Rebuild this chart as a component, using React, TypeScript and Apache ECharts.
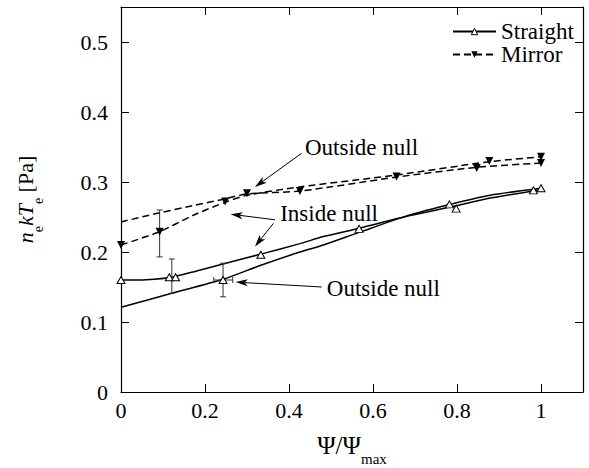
import React, { useEffect, useRef } from "react";
import * as echarts from "echarts";

const FONT = "Liberation Serif";

// Axis ranges / ticks
const xMin = 0;
const xMax = 1.1;
const xStep = 0.2;
const yMin = 0;
const yMax = 0.55;
const yStep = 0.1;

// Straight – fitted curves
const straightInsideFitX = [0, 0.06, 0.121, 0.18, 0.243, 0.333, 0.426, 0.482, 0.567, 0.688, 0.79, 0.879, 1.0];
const straightInsideFitY = [0.16, 0.1605, 0.164, 0.173, 0.183, 0.197, 0.212, 0.222, 0.234, 0.252, 0.265, 0.277, 0.289];
const straightOutsideFitX = [0, 0.121, 0.243, 0.333, 0.426, 0.482, 0.567, 0.688, 0.79, 0.879, 1.0];
const straightOutsideFitY = [0.121, 0.141, 0.161, 0.181, 0.2, 0.21, 0.228, 0.253, 0.269, 0.281, 0.291];

// Mirror – fitted curves
const mirrorInsideFitX = [0, 0.092, 0.17, 0.248, 0.3, 0.426, 0.656, 0.877, 1.0];
const mirrorInsideFitY = [0.21, 0.229, 0.252, 0.271, 0.281, 0.293, 0.31, 0.329, 0.336];
const mirrorOutsideFitX = [0, 0.092, 0.17, 0.248, 0.3, 0.426, 0.656, 0.847, 1.0];
const mirrorOutsideFitY = [0.243, 0.256, 0.266, 0.276, 0.283, 0.287, 0.307, 0.321, 0.327];

// Measured points
const straightMarkX = [0, 0.115, 0.13, 0.243, 0.333, 0.567, 0.782, 0.798, 0.982, 1.0];
const straightMarkY = [0.16, 0.164, 0.164, 0.16, 0.196, 0.233, 0.268, 0.262, 0.288, 0.291];
const mirrorMarkX = [0, 0.092, 0.248, 0.3, 0.426, 0.656, 0.847, 0.877, 1.0, 1.0];
const mirrorMarkY = [0.21, 0.229, 0.272, 0.284, 0.287, 0.308, 0.32, 0.33, 0.336, 0.327];

// Error bars
const errVX = [0.092, 0.121, 0.243];
const errVLow = [0.193, 0.141, 0.136];
const errVHigh = [0.26, 0.19, 0.184];
const errHY = [0.16];
const errHLow = [0.221];
const errHHigh = [0.266];

// Annotations
const annoLabels = ["Outside null", "Inside null", "Outside null"];
const annoX = [0.438, 0.379, 0.49];
const annoY = [0.35, 0.255, 0.148];
// arrows: tail -> head
const arrowTailX = [0.43, 0.367, 0.363, 0.478];
const arrowTailY = [0.341, 0.246, 0.241, 0.15];
const arrowHeadX = [0.319, 0.261, 0.319, 0.273];
const arrowHeadY = [0.293, 0.254, 0.208, 0.157];

const INV_TRI = "path://M0,0L10,0L5,10Z";

const pair = (xs: number[], ys: number[]) => xs.map((x, i) => [x, ys[i]]);

export default function App() {
  const ref = useRef<HTMLDivElement>(null);

  useEffect(() => {
    const chart = echarts.init(ref.current!, null, { renderer: "svg" });

    const txt = (size: number, extra: any = {}) => ({
      fontSize: size,
      fontFamily: FONT,
      fontStyle: "normal",
      fontWeight: "normal",
      color: "#000",
      ...extra,
    });

    const axisCommon = {
      type: "value" as const,
      splitLine: { show: false },
      axisLine: { show: true, onZero: false, lineStyle: { color: "#000", width: 1.2 } },
      axisTick: { show: true, inside: true, length: 8, lineStyle: { color: "#000", width: 1 } },
    };

    const fitLine = (name: string, xs: number[], ys: number[], dashed: boolean, symbol: string) => ({
      type: "line",
      name,
      data: pair(xs, ys),
      smooth: 0.25,
      showSymbol: false,
      symbol,
      symbolSize: 8,
      lineStyle: { color: "#000", width: 1.5, type: dashed ? [7, 4] : "solid" },
      itemStyle: { color: "#000" },
      silent: true,
      z: 2,
    });

    const option: any = {
      animation: false,
      textStyle: { fontFamily: FONT, color: "#000" },
      grid: { left: 121, right: 6, top: 7, bottom: 76, containLabel: false, outerBoundsMode: "none" },
      legend: {
        orient: "vertical",
        left: 452,
        top: 20,
        padding: 0,
        itemGap: 0,
        itemWidth: 43,
        itemHeight: 8,
        selectedMode: false,
        textStyle: txt(23, { lineHeight: 23 }),
        data: [
          { name: "Straight", itemStyle: { color: "#fff", borderColor: "#000", borderWidth: 1 } },
          { name: "Mirror", itemStyle: { color: "#000", borderColor: "#000", borderWidth: 0 } },
        ],
      },
      xAxis: [
        {
          ...axisCommon,
          min: xMin,
          max: xMax,
          interval: xStep,
          position: "bottom",
          axisLabel: {
            ...txt(22),
            margin: 7,
            showMaxLabel: false,
            formatter: (v: number) => (v > 1.05 ? "" : String(+v.toFixed(2))),
          },
          name: "{m|Ψ/Ψ}{s|max}",
          nameLocation: "middle",
          nameGap: 41,
          nameTextStyle: {
            rich: {
              m: txt(25, { verticalAlign: "top" }),
              s: txt(15, { verticalAlign: "top", padding: [18, 0, 0, 0] }),
            },
          },
        },
        {
          ...axisCommon,
          min: xMin,
          max: xMax,
          interval: xStep,
          position: "top",
          axisLabel: { show: false },
        },
      ],
      yAxis: [
        {
          ...axisCommon,
          min: yMin,
          max: yMax,
          interval: yStep,
          position: "left",
          axisLabel: {
            ...txt(22),
            margin: 13,
            showMaxLabel: false,
            formatter: (v: number) => (v > 0.52 ? "" : String(+v.toFixed(2))),
          },
          name: "{i|n}{s|e}{i|kT}{s|e}{r| [Pa]}",
          nameLocation: "middle",
          nameRotate: 90,
          nameGap: 76,
          nameTextStyle: {
            rich: {
              i: txt(22, { fontStyle: "italic", verticalAlign: "top" }),
              r: txt(22, { verticalAlign: "top" }),
              s: txt(14, { verticalAlign: "top", padding: [17, 0, 0, 0] }),
            },
          },
        },
        {
          ...axisCommon,
          min: yMin,
          max: yMax,
          interval: yStep,
          position: "right",
          axisLabel: { show: false },
        },
      ],
      series: [
        fitLine("Straight", straightInsideFitX, straightInsideFitY, false, "triangle"),
        fitLine("Straight", straightOutsideFitX, straightOutsideFitY, false, "triangle"),
        fitLine("Mirror", mirrorInsideFitX, mirrorInsideFitY, true, INV_TRI),
        fitLine("Mirror", mirrorOutsideFitX, mirrorOutsideFitY, true, INV_TRI),
        {
          type: "custom",
          name: "errV",
          silent: true,
          z: 3,
          data: errVX.map((x, i) => [x, errVLow[i], errVHigh[i]]),
          encode: { x: 0, y: [1, 2] },
          renderItem: (_p: any, api: any) => {
            const top = api.coord([api.value(0), api.value(2)]);
            const bot = api.coord([api.value(0), api.value(1)]);
            const c = 3;
            const style = { stroke: "#333", lineWidth: 1 };
            return {
              type: "group",
              children: [
                { type: "line", shape: { x1: top[0], y1: top[1], x2: bot[0], y2: bot[1] }, style },
                { type: "line", shape: { x1: top[0] - c, y1: top[1], x2: top[0] + c, y2: top[1] }, style },
                { type: "line", shape: { x1: bot[0] - c, y1: bot[1], x2: bot[0] + c, y2: bot[1] }, style },
              ],
            };
          },
        },
        {
          type: "custom",
          name: "errH",
          silent: true,
          z: 3,
          data: errHY.map((y, i) => [errHLow[i], errHHigh[i], y]),
          encode: { x: [0, 1], y: 2 },
          renderItem: (_p: any, api: any) => {
            const l = api.coord([api.value(0), api.value(2)]);
            const r = api.coord([api.value(1), api.value(2)]);
            const c = 3;
            const style = { stroke: "#333", lineWidth: 1 };
            return {
              type: "group",
              children: [
                { type: "line", shape: { x1: l[0], y1: l[1], x2: r[0], y2: r[1] }, style },
                { type: "line", shape: { x1: l[0], y1: l[1] - c, x2: l[0], y2: l[1] + c }, style },
                { type: "line", shape: { x1: r[0], y1: r[1] - c, x2: r[0], y2: r[1] + c }, style },
              ],
            };
          },
        },
        {
          type: "scatter",
          name: "Straight",
          data: pair(straightMarkX, straightMarkY),
          symbol: "triangle",
          symbolSize: [8, 7],
          itemStyle: { color: "#fff", borderColor: "#000", borderWidth: 1, opacity: 1 },
          silent: true,
          z: 4,
        },
        {
          type: "scatter",
          name: "Mirror",
          data: pair(mirrorMarkX, mirrorMarkY),
          symbol: INV_TRI,
          symbolSize: [8, 8],
          itemStyle: { color: "#000", opacity: 1 },
          silent: true,
          z: 4,
        },
        {
          type: "custom",
          name: "arrows",
          silent: true,
          z: 5,
          data: arrowTailX.map((x, i) => [x, arrowTailY[i], arrowHeadX[i], arrowHeadY[i]]),
          encode: { x: [0, 2], y: [1, 3] },
          renderItem: (_p: any, api: any) => {
            const t = api.coord([api.value(0), api.value(1)]);
            const h = api.coord([api.value(2), api.value(3)]);
            const dx = h[0] - t[0];
            const dy = h[1] - t[1];
            const len = Math.sqrt(dx * dx + dy * dy) || 1;
            const ux = dx / len;
            const uy = dy / len;
            const L = 12;
            const W = 3.5;
            const bx = h[0] - ux * L;
            const by = h[1] - uy * L;
            const nx = h[0] - ux * L * 0.75;
            const ny = h[1] - uy * L * 0.75;
            return {
              type: "group",
              children: [
                { type: "line", shape: { x1: t[0], y1: t[1], x2: nx, y2: ny }, style: { stroke: "#000", lineWidth: 1 } },
                {
                  type: "polygon",
                  shape: {
                    points: [
                      [h[0], h[1]],
                      [bx - uy * W, by + ux * W],
                      [nx, ny],
                      [bx + uy * W, by - ux * W],
                    ],
                  },
                  style: { fill: "#000" },
                },
              ],
            };
          },
        },
        {
          type: "custom",
          name: "labels",
          silent: true,
          z: 5,
          data: annoX.map((x, i) => [x, annoY[i], i]),
          encode: { x: 0, y: 1 },
          renderItem: (_p: any, api: any) => {
            const p = api.coord([api.value(0), api.value(1)]);
            return {
              type: "text",
              x: p[0],
              y: p[1],
              style: {
                text: annoLabels[api.value(2)],
                fontSize: 23,
                fontFamily: FONT,
                fill: "#000",
                align: "left",
                verticalAlign: "middle",
              },
            };
          },
        },
      ],
    };

    chart.setOption(option);
    return () => chart.dispose();
  }, []);

  return (
    <div
      ref={ref}
      style={{ position: "fixed", left: 0, top: 0, width: 589, height: 468, background: "#fff" }}
    />
  );
}
